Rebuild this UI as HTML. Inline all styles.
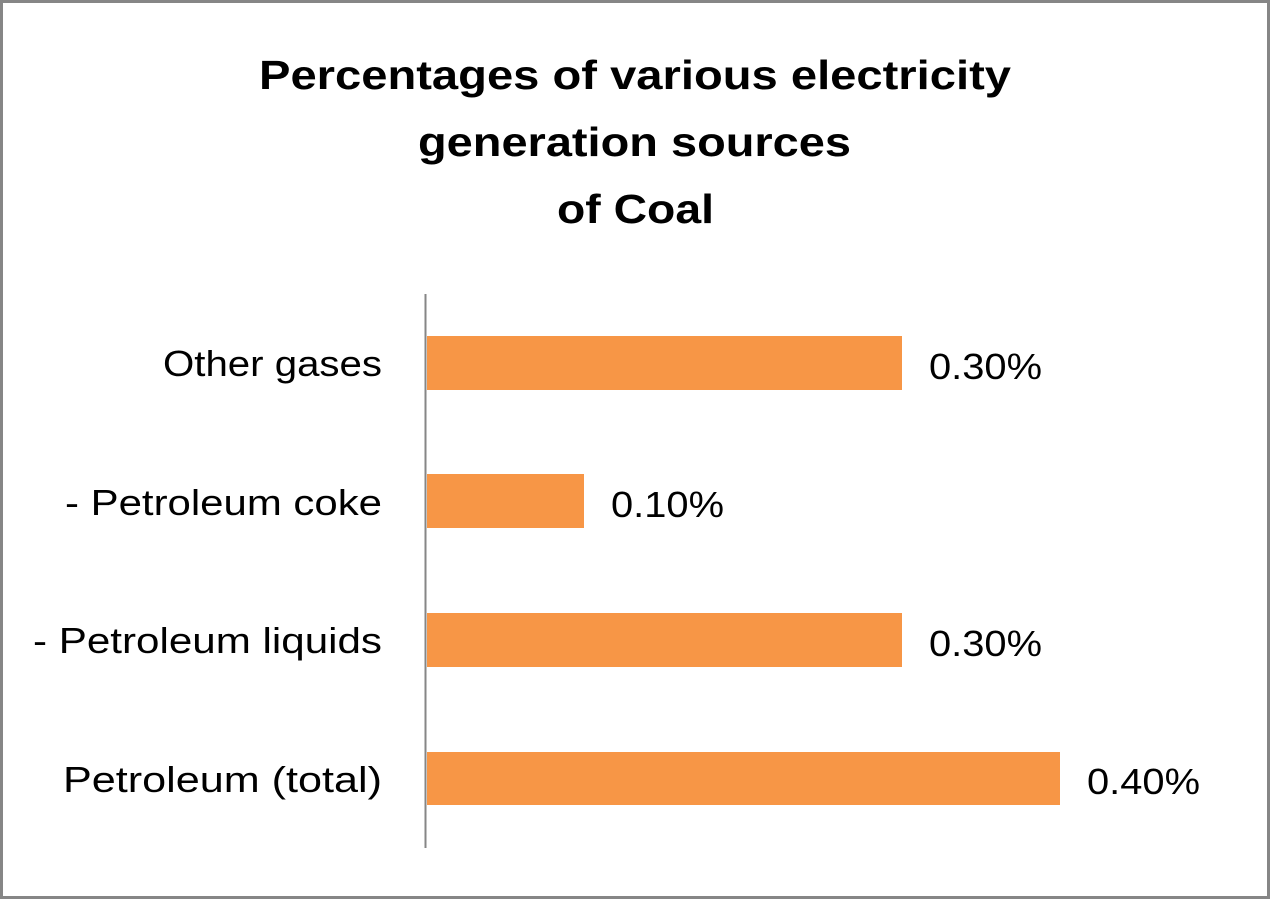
<!DOCTYPE html>
<html><head><style>
body{margin:0;background:#fff;}
svg{display:block}
text{font-family:"Liberation Sans",sans-serif;fill:#000}
</style></head><body>
<svg width="1271" height="900" viewBox="0 0 1271 900">
<rect x="1.5" y="1.5" width="1267" height="896" fill="#fff" stroke="#868686" stroke-width="3"/>
<g font-weight="bold" font-size="41" lengthAdjust="spacingAndGlyphs">
<text x="259" y="89" textLength="752" lengthAdjust="spacingAndGlyphs">Percentages of various electricity</text>
<text x="418" y="156" textLength="433" lengthAdjust="spacingAndGlyphs">generation sources</text>
<text x="557" y="223" textLength="157" lengthAdjust="spacingAndGlyphs">of Coal</text>
</g>
<g fill="#f79646">
<rect x="427" y="336" width="475" height="54"/>
<rect x="427" y="474" width="157" height="54"/>
<rect x="427" y="613" width="475" height="54"/>
<rect x="427" y="752" width="633" height="53"/>
</g>
<line x1="425.5" y1="294" x2="425.5" y2="848" stroke="#868686" stroke-width="2"/>
<g font-size="36">
<text x="163" y="376" textLength="219" lengthAdjust="spacingAndGlyphs">Other gases</text>
<text x="65" y="515" textLength="317" lengthAdjust="spacingAndGlyphs">- Petroleum coke</text>
<text x="33" y="653" textLength="349" lengthAdjust="spacingAndGlyphs">- Petroleum liquids</text>
<text x="63" y="792" textLength="319" lengthAdjust="spacingAndGlyphs">Petroleum (total)</text>
</g>
<g font-size="36">
<text x="929" y="379" textLength="113" lengthAdjust="spacingAndGlyphs">0.30%</text>
<text x="611" y="517" textLength="113" lengthAdjust="spacingAndGlyphs">0.10%</text>
<text x="929" y="656" textLength="113" lengthAdjust="spacingAndGlyphs">0.30%</text>
<text x="1087" y="794" textLength="113" lengthAdjust="spacingAndGlyphs">0.40%</text>
</g>
</svg>
</body></html>
